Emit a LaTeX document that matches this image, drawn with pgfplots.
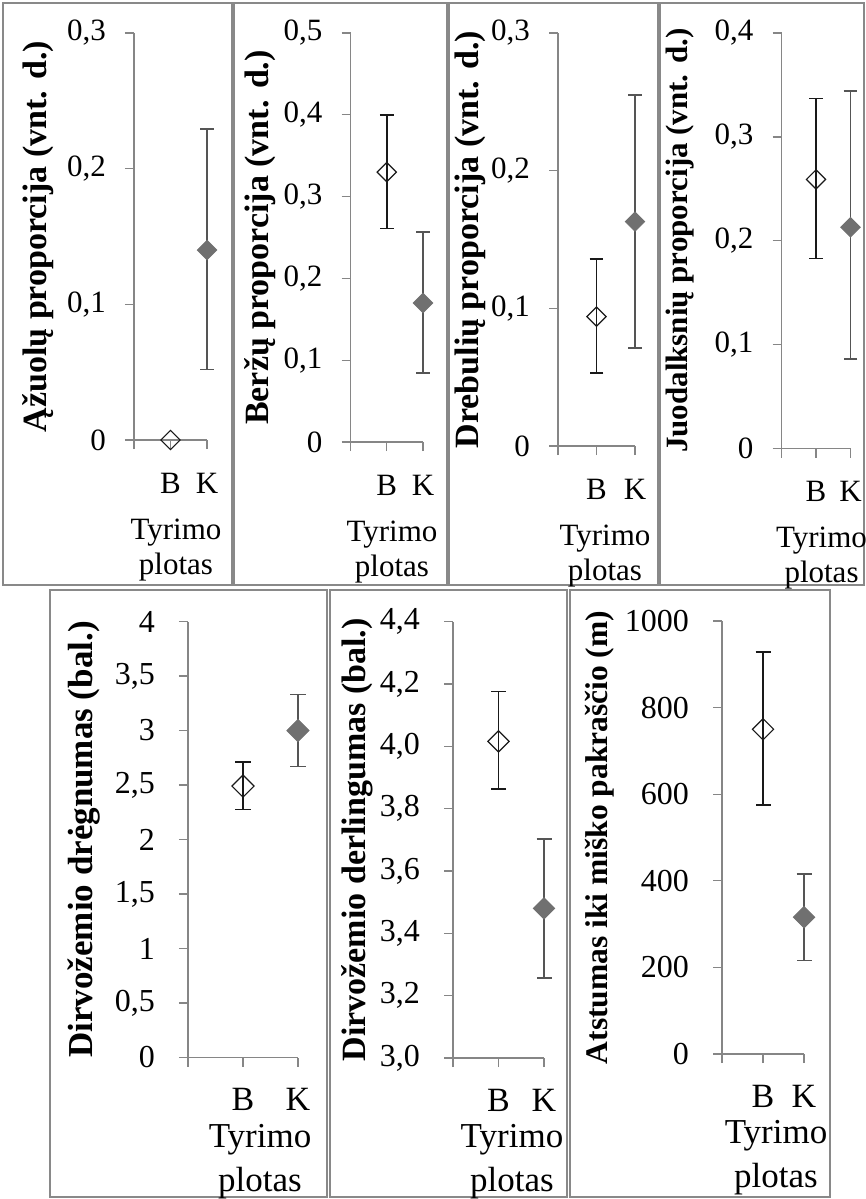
\documentclass[border=0pt]{standalone}
\usepackage{pgfplots}
\pgfplotsset{compat=1.18}
\usepackage{fontspec}
\setmainfont{Liberation Serif}
\definecolor{axgray}{RGB}{134,134,134}
\definecolor{framegray}{RGB}{137,137,137}
\definecolor{kfill}{RGB}{112,112,112}
\definecolor{kbar}{RGB}{85,85,85}
\definecolor{bline}{RGB}{25,25,25}
\pgfplotsset{
  panel/.style={
    scale only axis, anchor=south west, clip=false,
    axis lines*=left,
    axis line style={draw=axgray, line width=1.3pt},
    tick style={draw=axgray, line width=1.3pt},
    tick align=outside, major tick length=9pt,
    xmin=0, xmax=2, xtick={0,1,2}, xticklabels={,B,K},
    yticklabel style={anchor=east, inner sep=0pt},
    xticklabel style={anchor=center, inner sep=0pt},
    xlabel={Tyrimo\\plotas},
  },
  toprow/.style={
    yticklabel style={font=\fontsize{31}{36}\selectfont, xshift=-19pt},
    xticklabel style={font=\fontsize{31}{36}\selectfont, yshift=-34pt},
    xlabel style={font=\fontsize{31}{35}\selectfont, align=center, anchor=center, yshift=-110pt},
  },
  botrow/.style={
    yticklabel style={font=\fontsize{32}{38}\selectfont, xshift=-24pt},
    xticklabel style={font=\fontsize{34}{40}\selectfont, yshift=-33pt},
    xlabel style={font=\fontsize{35}{44}\selectfont, align=center, anchor=center, yshift=-104pt},
  },
  bmark/.style={only marks, mark=square, mark size=#1,
    mark options={rotate=45, fill=white, draw=bline, line width=1.2pt}},
  kmark/.style={only marks, mark=square*, mark size=#1,
    mark options={rotate=45, fill=kfill, draw=kfill, line width=1pt}},
  berr/.style={error bars/.cd, y dir=both, y explicit,
    error bar style={draw=bline, line width=1.5pt},
    error mark options={rotate=90, draw=bline, line width=1.5pt, mark size=#1}},
  kerr/.style={error bars/.cd, y dir=both, y explicit,
    error bar style={draw=kbar, line width=1.8pt},
    error mark options={rotate=90, draw=kbar, line width=1.8pt, mark size=#1}},
}
\begin{document}
\begin{tikzpicture}
\path[use as bounding box] (0pt,0pt) rectangle (866pt,-1199pt);
% frames
\begin{scope}[draw=framegray, line width=2.5pt]
\draw (3pt,-3pt) rectangle (232pt,-585pt);
\draw (234pt,-3pt) rectangle (447pt,-585pt);
\draw (448.5pt,-3pt) rectangle (658pt,-585pt);
\draw (659.5pt,-3pt) rectangle (864pt,-585pt);
\draw (50pt,-590pt) rectangle (327pt,-1197pt);
\draw (330pt,-590pt) rectangle (567pt,-1197pt);
\draw (570pt,-590pt) rectangle (830pt,-1197pt);
\end{scope}

% Panel 1
\begin{axis}[panel, toprow, at={(134pt,-440pt)}, width=73pt, height=407pt,
  ymin=0, ymax=0.3, ytick={0,0.1,0.2,0.3}, yticklabels={0,{0,1},{0,2},{0,3}},
  ylabel={Ąžuolų proporcija (vnt. d.)},
  ylabel style={font=\bfseries\fontsize{34}{40}\selectfont, at={(axis description cs:-1.315,0.5)}, anchor=center},
  xlabel style={at={(axis description cs:0.575,0)}}]
\addplot[kmark=6.8pt, kerr=6.8pt] coordinates {(2,0.14) += (0,0.089) -= (0,0.088)};
\addplot[bmark=6.8pt] coordinates {(1,0)};
\end{axis}

% Panel 2
\begin{axis}[panel, toprow, at={(350.5pt,-442pt)}, width=72.5pt, height=409pt,
  ymin=0, ymax=0.5, ytick={0,0.1,0.2,0.3,0.4,0.5}, yticklabels={0,{0,1},{0,2},{0,3},{0,4},{0,5}},
  ylabel={Beržų proporcija (vnt. d.)},
  ylabel style={font=\bfseries\fontsize{34}{40}\selectfont, at={(axis description cs:-1.25,0.5)}, anchor=center},
  xlabel style={at={(axis description cs:0.572,0)}}]
\addplot[kmark=6.8pt, kerr=6.8pt] coordinates {(2,0.17) += (0,0.087) -= (0,0.086)};
\addplot[bmark=6.8pt, berr=6.8pt] coordinates {(1,0.33) += (0,0.07) -= (0,0.069)};
\end{axis}

% Panel 3
\begin{axis}[panel, toprow, at={(558pt,-446pt)}, width=77pt, height=413pt,
  ymin=0, ymax=0.3, ytick={0,0.1,0.2,0.3}, yticklabels={0,{0,1},{0,2},{0,3}},
  ylabel={Drebulių proporcija (vnt. d.)},
  ylabel style={font=\bfseries\fontsize{34}{40}\selectfont, at={(axis description cs:-1.143,0.5)}, anchor=center},
  xlabel style={at={(axis description cs:0.61,0)}}]
\addplot[kmark=6.8pt, kerr=6.8pt] coordinates {(2,0.163) += (0,0.092) -= (0,0.092)};
\addplot[bmark=6.8pt, berr=6.8pt] coordinates {(1,0.094) += (0,0.042) -= (0,0.041)};
\end{axis}

% Panel 4
\begin{axis}[panel, toprow, at={(781.5pt,-448.5pt)}, width=69pt, height=415.5pt,
  ymin=0, ymax=0.4, ytick={0,0.1,0.2,0.3,0.4}, yticklabels={0,{0,1},{0,2},{0,3},{0,4}},
  ylabel={Juodalksnių proporcija (vnt. d.)},
  ylabel style={font=\bfseries\fontsize{31}{37}\selectfont, at={(axis description cs:-1.47,0.5)}, anchor=center},
  xlabel style={at={(axis description cs:0.58,0)}}]
\addplot[kmark=6.8pt, kerr=6.8pt] coordinates {(2,0.213) += (0,0.131) -= (0,0.127)};
\addplot[bmark=6.8pt, berr=6.8pt] coordinates {(1,0.259) += (0,0.078) -= (0,0.076)};
\end{axis}

% Panel 5
\begin{axis}[panel, botrow, at={(188pt,-1057.5pt)}, width=110pt, height=436pt,
  ymin=0, ymax=4, ytick={0,0.5,1,1.5,2,2.5,3,3.5,4},
  yticklabels={0,{0,5},1,{1,5},2,{2,5},3,{3,5},4},
  ylabel={Dirvožemio drėgnumas (bal.)},
  ylabel style={font=\bfseries\fontsize{35}{41}\selectfont, at={(axis description cs:-0.945,0.5)}, anchor=center},
  xlabel style={at={(axis description cs:0.655,0)}}]
\addplot[kmark=7.8pt, kerr=7.8pt] coordinates {(2,3.0) += (0,0.33) -= (0,0.33)};
\addplot[bmark=7.8pt, berr=7.8pt] coordinates {(1,2.49) += (0,0.22) -= (0,0.215)};
\end{axis}

% Panel 6
\begin{axis}[panel, botrow, at={(453pt,-1058pt)}, width=91pt, height=436.3pt,
  ymin=3, ymax=4.4, ytick={3,3.2,3.4,3.6,3.8,4,4.2,4.4},
  yticklabels={{3,0},{3,2},{3,4},{3,6},{3,8},{4,0},{4,2},{4,4}},
  ylabel={Dirvožemio derlingumas (bal.)},
  ylabel style={font=\bfseries\fontsize{34}{40}\selectfont, at={(axis description cs:-1.055,0.5)}, anchor=center},
  xlabel style={at={(axis description cs:0.648,0)}}]
\addplot[kmark=7.5pt, kerr=7.5pt] coordinates {(2,3.48) += (0,0.224) -= (0,0.224)};
\addplot[bmark=7.5pt, berr=7.5pt] coordinates {(1,4.016) += (0,0.16) -= (0,0.152)};
\end{axis}

% Panel 7
\begin{axis}[panel, botrow, at={(722pt,-1054pt)}, width=82pt, height=433pt,
  ymin=0, ymax=1000, ytick={0,200,400,600,800,1000},
  yticklabels={0,200,400,600,800,1000},
  ylabel={Atstumas iki miško pakraščio (m)},
  ylabel style={font=\bfseries\fontsize{31.5}{38}\selectfont, at={(axis description cs:-1.488,0.5)}, anchor=center},
  xlabel style={at={(axis description cs:0.659,0)}}]
\addplot[kmark=7.5pt, kerr=7.5pt] coordinates {(2,316) += (0,100) -= (0,100)};
\addplot[bmark=7.5pt, berr=7.5pt] coordinates {(1,750) += (0,178) -= (0,175)};
\end{axis}
\end{tikzpicture}
\end{document}
